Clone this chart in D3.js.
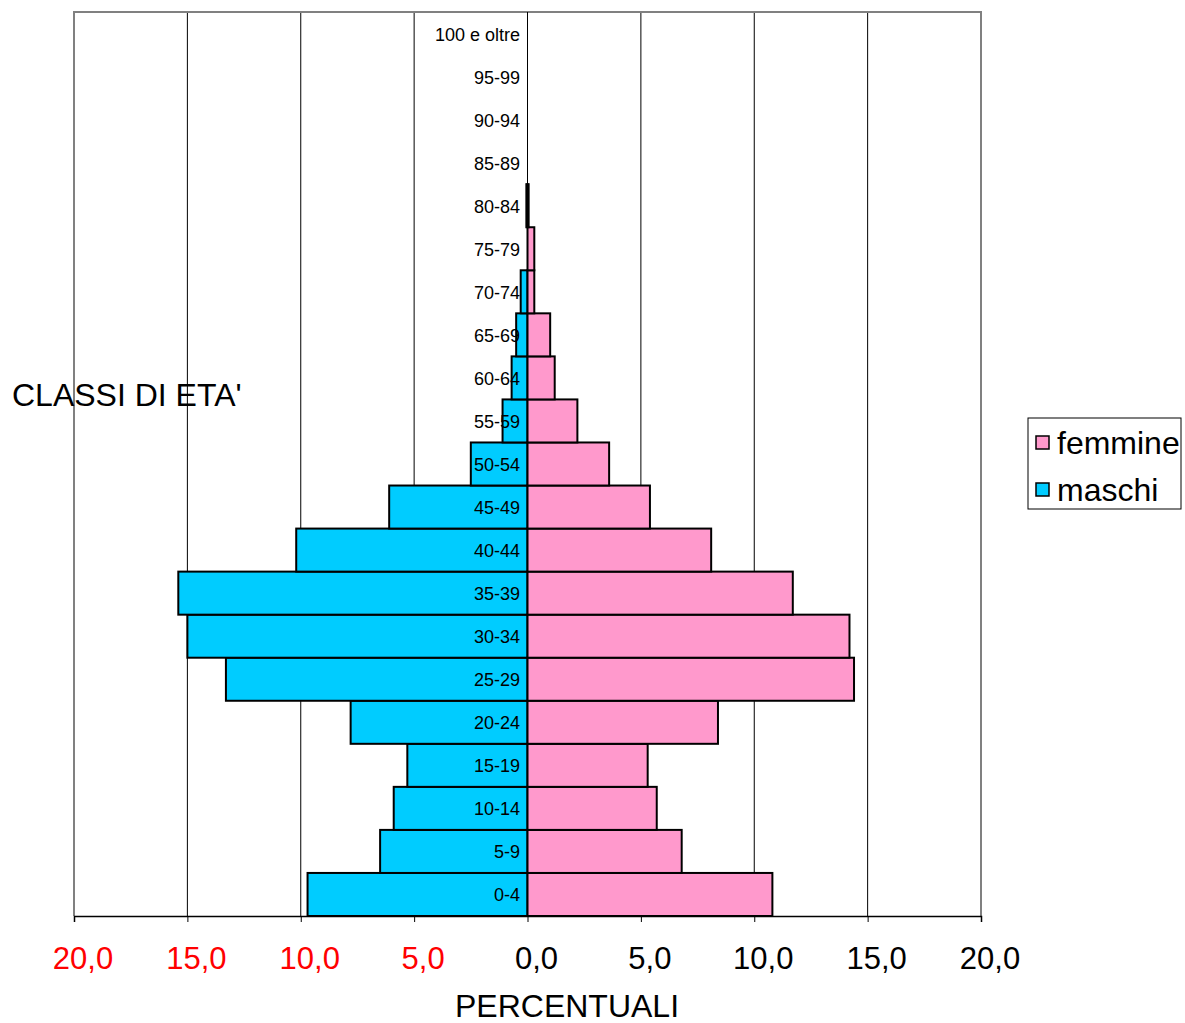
<!DOCTYPE html>
<html>
<head>
<meta charset="utf-8">
<script src="https://cdn.jsdelivr.net/npm/d3@7"></script>
<style>
  body { margin: 0; background: #fff; }
  svg { display: block; font-family: Arial, "Liberation Sans", sans-serif; }
</style>
</head>
<body>
<svg id="chart" width="1185" height="1023"></svg>
<script>
// Age classes from youngest (bottom) to oldest (top)
const ageClasses = ["0-4","5-9","10-14","15-19","20-24","25-29","30-34","35-39","40-44","45-49",
  "50-54","55-59","60-64","65-69","70-74","75-79","80-84","85-89","90-94","95-99","100 e oltre"];
const maschi  = [9.7, 6.5, 5.9, 5.3, 7.8, 13.3, 15.0, 15.4, 10.2, 6.1, 2.5, 1.1, 0.7, 0.5, 0.3, 0, 0.05, 0, 0, 0, 0];
const femmine = [10.8, 6.8, 5.7, 5.3, 8.4, 14.4, 14.2, 11.7, 8.1, 5.4, 3.6, 2.2, 1.2, 1.0, 0.3, 0.3, 0.05, 0, 0, 0, 0];
const tickValues = [-20, -15, -10, -5, 0, 5, 10, 15, 20];
const seriesNames = ["femmine", "maschi"];
const seriesColors = {femmine: "#FF99CC", maschi: "#00CCFF"};

const svg = d3.select("#chart");
const pLeft = 74, pRight = 981, pTop = 12, pBottom = 916;

const x = d3.scaleLinear().domain([-20, 20]).range([pLeft, pRight]);
const y = d3.scaleBand().domain(ageClasses.slice().reverse()).range([pTop, pBottom]).padding(0);

// gridlines
svg.append("g").selectAll("line").data(tickValues.filter(v => v !== 0 && Math.abs(v) !== 20))
  .join("line")
  .attr("x1", d => x(d)).attr("x2", d => x(d))
  .attr("y1", pTop).attr("y2", pBottom)
  .attr("stroke", "#000").attr("stroke-width", 1);

// plot border (top, left, right)
svg.append("path")
  .attr("d", `M${pLeft},${pBottom}V${pTop}H${pRight}V${pBottom}`)
  .attr("fill", "none").attr("stroke", "#808080").attr("stroke-width", 2);

// bars
const bars = svg.append("g");
bars.selectAll("rect.m").data(ageClasses)
  .join("rect").attr("class", "m")
  .attr("x", (d, i) => x(-maschi[i]))
  .attr("width", (d, i) => x(0) - x(-maschi[i]))
  .attr("y", d => y(d)).attr("height", y.bandwidth())
  .attr("fill", seriesColors.maschi)
  .attr("stroke", "#000").attr("stroke-width", 2)
  .style("display", (d, i) => maschi[i] > 0 ? null : "none");
bars.selectAll("rect.f").data(ageClasses)
  .join("rect").attr("class", "f")
  .attr("x", x(0))
  .attr("width", (d, i) => x(femmine[i]) - x(0))
  .attr("y", d => y(d)).attr("height", y.bandwidth())
  .attr("fill", seriesColors.femmine)
  .attr("stroke", "#000").attr("stroke-width", 2)
  .style("display", (d, i) => femmine[i] > 0 ? null : "none");

// centre line
svg.append("line")
  .attr("x1", x(0)).attr("x2", x(0)).attr("y1", pTop).attr("y2", pBottom)
  .attr("stroke", "#000").attr("stroke-width", 1);

// bottom axis
const xAxis = d3.axisBottom(x).tickValues(tickValues).tickSize(6).tickFormat("");
const gx = svg.append("g").attr("transform", `translate(0,${pBottom})`).call(xAxis);
gx.select(".domain").attr("stroke", "#000").attr("stroke-width", 1.5);
gx.selectAll(".tick line").attr("stroke", "#000");

// tick labels
svg.append("g").selectAll("text").data(tickValues).join("text")
  .attr("x", d => x(d) + 9).attr("y", 969)
  .attr("text-anchor", "middle")
  .attr("font-size", 31)
  .attr("fill", d => d < 0 ? "#FF0000" : "#000")
  .text(d => Math.abs(d).toFixed(1).replace(".", ","));

// category labels
svg.append("g").selectAll("text").data(ageClasses).join("text")
  .attr("x", 520)
  .attr("y", d => y(d) + y.bandwidth() / 2 + 7)
  .attr("text-anchor", "end")
  .attr("font-size", 18)
  .attr("fill", "#000")
  .text(d => d);

// axis titles
svg.append("text").attr("x", 567).attr("y", 1017).attr("text-anchor", "middle")
  .attr("font-size", 32).text("PERCENTUALI");
svg.append("text").attr("x", 12).attr("y", 406).attr("text-anchor", "start")
  .attr("font-size", 32).text("CLASSI DI ETA'");

// legend
const lg = svg.append("g");
lg.append("rect").attr("x", 1028).attr("y", 418).attr("width", 153).attr("height", 91)
  .attr("fill", "#fff").attr("stroke", "#000").attr("stroke-width", 1);
seriesNames.forEach((s, i) => {
  const cy = 443 + i * 47;
  lg.append("rect").attr("x", 1036).attr("y", cy - 7).attr("width", 13).attr("height", 13)
    .attr("fill", seriesColors[s]).attr("stroke", "#000").attr("stroke-width", 1.5);
  lg.append("text").attr("x", 1057).attr("y", cy + 11).attr("font-size", 32).text(s);
});
</script>
</body>
</html>
